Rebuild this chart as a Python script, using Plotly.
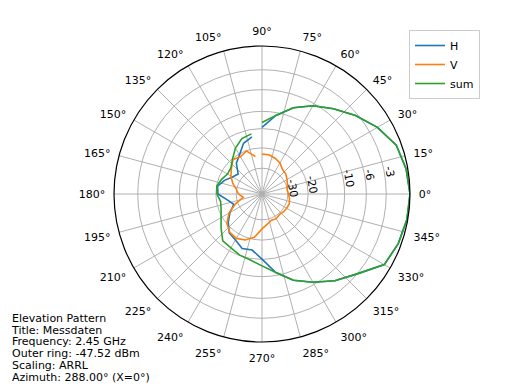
import math
import plotly.graph_objects as go

# Angles (degrees) of the measured points
angles = [90, 80, 70, 60, 50, 40, 30, 20, 10, 0, 350, 340, 330, 320, 310, 300, 290, 280,
          270, 260, 250, 240, 230, 220, 210, 200, 190, 180, 170, 160, 150, 140, 130, 120, 110, 100]

# Relative levels in dB (0 dB = outer ring)
h_db = [-13.7, -10.6, -8.2, -6.4, -4.9, -3.3, -1.8, -0.6, -0.2, 0.0, -0.1, -0.35, -0.8, -3.0, -4.6, -6.4, -8.2, -10.6,
        -14.1, -16.4, -16.1, -17.6, -18.3, -20.8, -23.8, -27.4, -24.8, -20.8, -20.4, -22.5, -25.2, -26.8, -22.5, -20.4, -17.3, -16.1]
v_db = [-22.5, -22.5, -23.3, -24.3, -26.3, -26.8, -28.0, -29.2, -30.2, -29.5, -28.6, -28.0, -28.3, -28.6, -29.2, -28.3, -28.6, -27.1,
        -24.8, -20.8, -19.0, -18.2, -18.6, -20.1, -23.3, -28.6, -35.2, -31.6, -29.9, -26.8, -24.3, -22.5, -20.4, -21.2, -20.1, -23.3]
sum_db = [-12.5, -10.6, -8.2, -6.4, -4.9, -3.3, -1.8, -0.6, -0.2, 0.0, -0.1, -0.35, -0.8, -3.0, -4.6, -6.4, -8.2, -10.6,
          -12.4, -13.6, -14.1, -14.9, -15.2, -17.5, -19.6, -21.0, -21.6, -20.4, -20.1, -21.2, -22.5, -22.2, -20.1, -17.6, -15.8, -15.2]

ring_db = [-30, -20, -14, -10, -6, -3]
ring_labels = ["-30", "-20", "", "-10", "-6", "-3"]

info_lines = ["Elevation Pattern", "Title: Messdaten", "Frequency: 2.45 GHz",
              "Outer ring: -47.52 dBm", "Scaling: ARRL", "Azimuth: 288.00° (X=0°)"]


def arrl(db):
    return 0.89 ** (-db / 2.0)


fig = go.Figure()
for name, vals, color in [("H", h_db, "#1f77b4"), ("V", v_db, "#ff7f0e"), ("sum", sum_db, "#2ca02c")]:
    fig.add_trace(go.Scatterpolar(
        r=[arrl(v) for v in vals], theta=angles, mode="lines", name=name,
        line=dict(color=color, width=1.6)))

W, H = 512, 384
cx, cy, R = 262, 194, 148
label_angle = 10
fig.update_layout(
    width=W, height=H,
    margin=dict(l=0, r=0, t=0, b=0),
    paper_bgcolor="white",
    font=dict(family="DejaVu Sans", size=11, color="black"),
    polar=dict(
        domain=dict(x=[(cx - R) / W, (cx + R) / W], y=[(H - cy - R) / H, (H - cy + R) / H]),
        bgcolor="white",
        radialaxis=dict(range=[0, 1], tickvals=[arrl(v) for v in ring_db], ticktext=ring_labels,
                        angle=label_angle, showticklabels=False, showline=False, ticks="",
                        gridcolor="#b0b0b0", gridwidth=0.8),
        angularaxis=dict(rotation=0, direction="counterclockwise", dtick=15, ticksuffix="°",
                         showline=True, linecolor="black", linewidth=1.2,
                         ticks="outside", ticklen=6, tickcolor="rgba(0,0,0,0)",
                         gridcolor="#b0b0b0", gridwidth=0.8, tickfont=dict(size=11)),
    ),
    legend=dict(x=409 / W, y=1 - 30 / H, xanchor="left", yanchor="top",
                bordercolor="#cccccc", borderwidth=1, bgcolor="white",
                font=dict(size=11), itemwidth=30),
    showlegend=True,
)

# radial ring labels, rotated, placed along the label angle just outside each ring
a = math.radians(label_angle)
for db, txt in zip(ring_db, ring_labels):
    if not txt:
        continue
    rp = arrl(db) * R + 5
    fig.add_annotation(text=txt, x=(cx + rp * math.cos(a)) / W, y=1 - (cy - rp * math.sin(a)) / H,
                       xref="paper", yref="paper", xanchor="center", yanchor="middle",
                       textangle=80, showarrow=False, font=dict(size=11))

# info text block (one multi-line text, tight line spacing)
info_text = "<br>".join("<span style='font-size:11px'>%s</span>" % l for l in info_lines)
fig.add_annotation(text=info_text, x=9 / W, y=1 - 348 / H, xref="paper", yref="paper",
                   xanchor="left", yanchor="middle", align="left", showarrow=False,
                   font=dict(size=9))

fig.write_html("out.html", config={"displayModeBar": False},
               post_script="document.body.style.margin='0px';")
